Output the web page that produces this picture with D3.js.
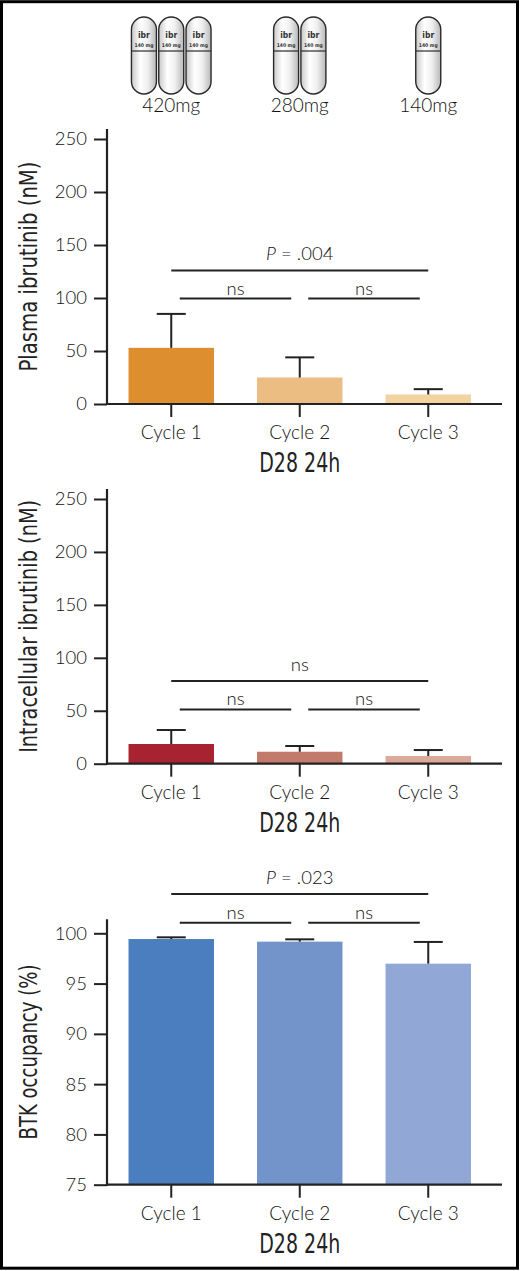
<!DOCTYPE html>
<html>
<head>
<meta charset="utf-8">
<script src="https://cdn.jsdelivr.net/npm/d3@7"></script>
<style>
    body { margin: 0; background: #fff; }
    svg { display: block; }
</style>
</head>
<body>
<svg id="chart"></svg>
<script>
// Data
const cycles = ['Cycle 1', 'Cycle 2', 'Cycle 3'];
const doses = [420, 280, 140];
const pillDose = 140;
const xTitle = 'D28 24h';

const plasmaMean = [53, 25, 9];
const plasmaUpper = [85, 44, 14];
const plasmaTicks = [0, 50, 100, 150, 200, 250];
const plasmaSig = [
    {from: 0, to: 2, value: 126, label: '.004', p: true},
    {from: 0, to: 1, value: 99.5, label: 'ns'},
    {from: 1, to: 2, value: 99.5, label: 'ns'}
];

const intraMean = [18.6, 11.3, 7.3];
const intraUpper = [31.8, 16.7, 12.9];
const intraTicks = [0, 50, 100, 150, 200, 250];
const intraSig = [
    {from: 0, to: 2, value: 78, label: 'ns'},
    {from: 0, to: 1, value: 51.3, label: 'ns'},
    {from: 1, to: 2, value: 51.3, label: 'ns'}
];

const btkMean = [99.43, 99.17, 96.98];
const btkUpper = [99.6, 99.4, 99.14];
const btkTicks = [75, 80, 85, 90, 95, 100];
const btkSig = [
    {from: 0, to: 2, value: 103.9, label: '.023', p: true},
    {from: 0, to: 1, value: 101.05, label: 'ns'},
    {from: 1, to: 2, value: 101.05, label: 'ns'}
];

window.addEventListener('DOMContentLoaded', e => {
    //Canvas
    let width = 520;
    let height = 1271;
    let axisLeftX = 107;
    let axisRightX = 502;
    let textColor = '#111';
    let lineColor = '#222';
    let tickFont = 'Lato, "Open Sans", sans-serif';
    let narrowFont = '"Liberation Sans Narrow", "DejaVu Sans Condensed", "Roboto Condensed", sans-serif';

    let svg = d3.select('#chart')
        .attr('width', width)
        .attr('height', height);

    //outer frame
    svg.append('rect')
        .attr('x', 1.5)
        .attr('y', 1.7)
        .attr('width', 516)
        .attr('height', 1266.5)
        .attr('fill', 'none')
        .attr('stroke', '#000')
        .attr('stroke-width', 3);

    let xScale = d3.scaleBand()
        .domain(cycles)
        .range([axisLeftX, 492.5])
        .paddingInner(0.335)
        .paddingOuter(0.1675);

    let center = (i) => xScale(cycles[i]) + xScale.bandwidth() / 2;

    //pill gradient
    let defs = svg.append('defs');
    let grad = defs.append('linearGradient')
        .attr('id', 'silver')
        .attr('x1', '0%').attr('x2', '100%')
        .attr('y1', '0%').attr('y2', '0%');
    grad.append('stop').attr('offset', '0%').attr('stop-color', '#c8c8c8');
    grad.append('stop').attr('offset', '35%').attr('stop-color', '#ffffff');
    grad.append('stop').attr('offset', '65%').attr('stop-color', '#efefef');
    grad.append('stop').attr('offset', '100%').attr('stop-color', '#b8b8b8');

    let drawPills = () => {
        let pillW = 25;
        let pillGap = 2.3;
        let pillTop = 17;
        let pillH = 77;

        doses.forEach((dose, i) => {
            let n = dose / pillDose;
            let total = n * pillW + (n - 1) * pillGap;
            let start = center(i) - total / 2;
            let g = svg.append('g');

            d3.range(n).forEach(k => {
                let px = start + k * (pillW + pillGap);
                g.append('rect')
                    .attr('x', px)
                    .attr('y', pillTop)
                    .attr('width', pillW)
                    .attr('height', pillH)
                    .attr('rx', pillW / 2)
                    .attr('fill', 'url(#silver)')
                    .attr('stroke', '#2a2a2a')
                    .attr('stroke-width', 1.4);
                g.append('line')
                    .attr('x1', px).attr('x2', px + pillW)
                    .attr('y1', 51).attr('y2', 51)
                    .attr('stroke', '#2a2a2a')
                    .attr('stroke-width', 1.2);
                g.append('text')
                    .attr('x', px + pillW / 2)
                    .attr('y', 38)
                    .attr('text-anchor', 'middle')
                    .style('font-family', narrowFont)
                    .style('font-weight', 'bold')
                    .style('font-size', '8.5px')
                    .attr('fill', '#333')
                    .text('ibr');
                g.append('text')
                    .attr('x', px + pillW / 2)
                    .attr('y', 47)
                    .attr('text-anchor', 'middle')
                    .style('font-family', narrowFont)
                    .style('font-weight', 'bold')
                    .style('font-size', '5px')
                    .attr('fill', '#333')
                    .text(pillDose + ' mg');
            });

            svg.append('text')
                .attr('x', center(i))
                .attr('y', 111.7)
                .attr('text-anchor', 'middle')
                .style('font-family', tickFont)
                .style('font-weight', 300)
                .style('font-size', '19px')
                .attr('fill', textColor)
                .text(dose + 'mg');
        });
    }

    let drawPanel = (cfg) => {
        let yScale = d3.scaleLinear()
            .domain(cfg.domain)
            .range([cfg.bottom, cfg.top]);
        let base = yScale(cfg.domain[0]);
        let g = svg.append('g');

        //bars
        g.selectAll('.bar')
            .data(cfg.mean)
            .enter()
            .append('rect')
            .attr('class', 'bar')
            .attr('x', (d, i) => xScale(cycles[i]))
            .attr('y', d => yScale(d))
            .attr('width', xScale.bandwidth())
            .attr('height', d => base - yScale(d))
            .attr('fill', (d, i) => cfg.colors[i]);

        //error bars (upper only)
        g.selectAll('.err')
            .data(cfg.upper)
            .enter()
            .append('line')
            .attr('x1', (d, i) => center(i))
            .attr('x2', (d, i) => center(i))
            .attr('y1', (d, i) => yScale(cfg.mean[i]))
            .attr('y2', d => yScale(d))
            .attr('stroke', lineColor)
            .attr('stroke-width', 2);
        g.selectAll('.cap')
            .data(cfg.upper)
            .enter()
            .append('line')
            .attr('x1', (d, i) => center(i) - 14.5)
            .attr('x2', (d, i) => center(i) + 14.5)
            .attr('y1', d => yScale(d))
            .attr('y2', d => yScale(d))
            .attr('stroke', lineColor)
            .attr('stroke-width', 2);

        //y axis
        let yAxis = d3.axisLeft(yScale)
            .tickValues(cfg.ticks)
            .tickSize(13)
            .tickPadding(7);
        let ya = g.append('g')
            .attr('transform', 'translate(' + axisLeftX + ', 0)')
            .call(yAxis);
        ya.select('.domain').remove();
        ya.selectAll('line').attr('stroke', lineColor).attr('stroke-width', 2);
        ya.selectAll('text')
            .style('font-family', tickFont)
            .style('font-weight', 300)
            .style('font-size', '18.5px')
            .attr('fill', textColor);
        g.append('line')
            .attr('x1', axisLeftX).attr('x2', axisLeftX)
            .attr('y1', base + 1).attr('y2', cfg.axisTop)
            .attr('stroke', lineColor)
            .attr('stroke-width', 2.2);

        //x axis
        let xAxis = d3.axisBottom(xScale)
            .tickSize(13)
            .tickSizeOuter(0);
        let xa = g.append('g')
            .attr('transform', 'translate(0, ' + base + ')')
            .call(xAxis);
        xa.select('.domain').remove();
        xa.selectAll('line').attr('stroke', lineColor).attr('stroke-width', 2);
        xa.selectAll('text')
            .attr('y', 35)
            .attr('dy', 0)
            .style('font-family', tickFont)
            .style('font-weight', 300)
            .style('font-size', '19px')
            .attr('fill', textColor);
        g.append('line')
            .attr('x1', axisLeftX - 1).attr('x2', axisRightX)
            .attr('y1', base).attr('y2', base)
            .attr('stroke', lineColor)
            .attr('stroke-width', 2.2);

        //axis titles
        g.append('text')
            .attr('transform', 'translate(37, ' + ((base + cfg.axisTop) / 2) + ') rotate(-90)')
            .attr('text-anchor', 'middle')
            .attr('textLength', cfg.labelLength)
            .attr('lengthAdjust', 'spacingAndGlyphs')
            .style('font-family', narrowFont)
            .style('font-size', '25px')
            .attr('fill', '#222')
            .text(cfg.label);
        g.append('text')
            .attr('x', center(1))
            .attr('y', base + 68)
            .attr('text-anchor', 'middle')
            .attr('textLength', 81)
            .attr('lengthAdjust', 'spacingAndGlyphs')
            .style('font-family', narrowFont)
            .style('font-size', '26px')
            .attr('fill', '#222')
            .text(xTitle);

        //significance brackets
        cfg.sig.forEach(s => {
            let wide = s.to - s.from > 1;
            let inset = wide ? 0 : 8.5;
            let x1 = center(s.from) + inset;
            let x2 = center(s.to) - inset;
            let y = yScale(s.value);
            g.append('line')
                .attr('x1', x1).attr('x2', x2)
                .attr('y1', y).attr('y2', y)
                .attr('stroke', lineColor)
                .attr('stroke-width', 2);
            let t = g.append('text')
                .attr('x', (x1 + x2) / 2)
                .attr('y', y - (wide ? 10 : 4))
                .attr('text-anchor', 'middle')
                .style('font-family', tickFont)
                .style('font-weight', 300)
                .style('font-size', '18.5px')
                .attr('fill', textColor);
            if (s.p) {
                t.append('tspan').style('font-style', 'italic').text('P');
                t.append('tspan').text(' = ' + s.label);
            } else {
                t.text(s.label);
            }
        });
    }

    drawPills();

    drawPanel({
        domain: [0, 250], top: 139, bottom: 404, axisTop: 129,
        ticks: plasmaTicks, mean: plasmaMean, upper: plasmaUpper, sig: plasmaSig,
        colors: ['#dd8f2f', '#ecbd82', '#f4d3a3'],
        label: 'Plasma ibrutinib (nM)', labelLength: 210
    });

    drawPanel({
        domain: [0, 250], top: 499, bottom: 763.7, axisTop: 489,
        ticks: intraTicks, mean: intraMean, upper: intraUpper, sig: intraSig,
        colors: ['#a82332', '#c47a6b', '#dcaa9a'],
        label: 'Intracellular ibrutinib (nM)', labelLength: 253
    });

    drawPanel({
        domain: [75, 100], top: 933.3, bottom: 1184.7, axisTop: 919.3,
        ticks: btkTicks, mean: btkMean, upper: btkUpper, sig: btkSig,
        colors: ['#4b7ebf', '#7394ca', '#91a8d6'],
        label: 'BTK occupancy (%)', labelLength: 175
    });
})
</script>
</body>
</html>
